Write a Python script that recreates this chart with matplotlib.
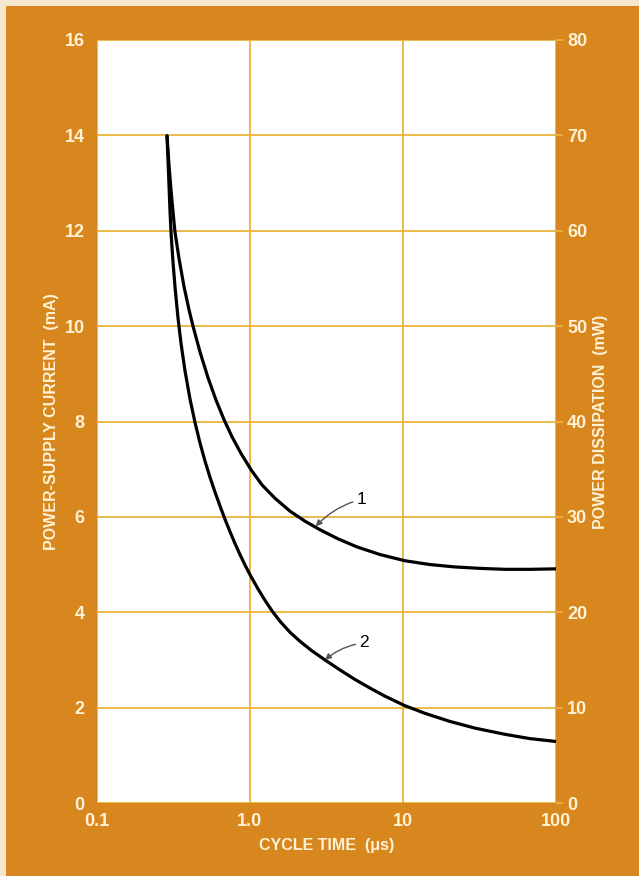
import numpy as np
import matplotlib.pyplot as plt
from matplotlib.patches import Rectangle

# curve 1 (upper), read along the line from the chart
x1 = [0.2868, 0.2955, 0.3046, 0.3139, 0.3235, 0.3435, 0.3704, 0.3995, 0.4241, 0.4711,
      0.5314, 0.5995, 0.6762, 0.7626, 0.8733, 1.015, 1.198, 1.457, 1.826, 2.288,
      2.868, 3.760, 5.003, 7.073, 10.30, 15.02, 21.88, 31.87, 46.42, 67.62, 100]
y1 = [13.99, 13.38, 12.85, 12.39, 11.97, 11.42, 10.83, 10.34, 10.00, 9.46,
      8.92, 8.45, 8.04, 7.68, 7.33, 6.99, 6.67, 6.39, 6.12, 5.91,
      5.73, 5.54, 5.37, 5.21, 5.08, 5.00, 4.95, 4.92, 4.90, 4.90, 4.91]

# curve 2 (lower)
x2 = [0.2868, 0.2912, 0.2955, 0.2999, 0.3046, 0.3139, 0.3235, 0.3384, 0.3540, 0.3761,
      0.4055, 0.4370, 0.4711, 0.5080, 0.5477, 0.5904, 0.6366, 0.6864, 0.7400, 0.7980,
      0.8603, 0.9275, 1.015, 1.128, 1.253, 1.392, 1.571, 1.826, 2.123, 2.542,
      3.092, 3.874, 4.857, 6.085, 7.627, 10.30, 13.93, 20.29, 29.56, 46.42, 67.62, 100]
y2 = [13.99, 13.48, 12.96, 12.43, 11.97, 11.34, 10.82, 10.17, 9.64, 9.06,
      8.47, 7.98, 7.55, 7.17, 6.83, 6.52, 6.23, 5.95, 5.69, 5.44,
      5.21, 4.99, 4.75, 4.49, 4.25, 4.03, 3.81, 3.58, 3.39, 3.19,
      3.00, 2.79, 2.59, 2.41, 2.24, 2.04, 1.88, 1.71, 1.57, 1.44, 1.35, 1.29]

xticks = [0.1, 1.0, 10, 100]
xticklabels = ["0.1", "1.0", "10", "100"]
left_ticks = [0, 2, 4, 6, 8, 10, 12, 14, 16]
right_ticks = [0, 10, 20, 30, 40, 50, 60, 70, 80]

orange = "#D8861E"
grid = "#EAB43A"
cream = "#FFF2D6"
edge = "#F4E6CF"
font = ["Liberation Sans", "DejaVu Sans"]

fig = plt.figure(figsize=(6.39, 8.76), dpi=100)
fig.patch.set_facecolor(orange)
# pale scan edges on top and left
fig.patches.append(Rectangle((0, 870 / 876), 1, 6 / 876, transform=fig.transFigure,
                             facecolor=edge, edgecolor="none"))
fig.patches.append(Rectangle((0, 0), 6 / 639, 1, transform=fig.transFigure,
                             facecolor=edge, edgecolor="none"))

ax = fig.add_axes([97 / 639, 1 - 803 / 876, 459 / 639, 763 / 876])
ax.set_facecolor("white")
ax.set_xscale("log")
ax.set_xlim(0.1, 100)
ax.set_ylim(0, 16)

ax.plot(x1, y1, color="black", lw=2.3, solid_capstyle="round", solid_joinstyle="round", zorder=3)
ax.plot(x2, y2, color="black", lw=2.3, solid_capstyle="round", solid_joinstyle="round", zorder=3)

ax.set_xticks(xticks)
ax.set_xticklabels(xticklabels)
ax.xaxis.set_minor_locator(plt.NullLocator())
ax.set_yticks(left_ticks)
ax.grid(True, color=grid, lw=1.3, zorder=1)
for s in ax.spines.values():
    s.set_visible(False)
ax.tick_params(axis="both", length=0, colors=cream, labelsize=13)
ax.tick_params(axis="x", pad=7)
ax.tick_params(axis="y", pad=9)
for lab in ax.get_xticklabels() + ax.get_yticklabels():
    lab.set_family(font)
    lab.set_fontweight("bold")

ax2 = ax.twinx()
ax2.set_ylim(0, 80)
ax2.set_yticks(right_ticks)
for s in ax2.spines.values():
    s.set_visible(False)
ax2.tick_params(axis="y", length=5, width=1.3, color=grid, labelcolor=cream,
                labelsize=13, pad=3)
for lab in ax2.get_yticklabels():
    lab.set_family(font)
    lab.set_fontweight("bold")

ax.set_xlabel("CYCLE TIME  (μs)", color=cream, fontsize=11.5, fontweight="bold",
              family=font, labelpad=6)
ax.set_ylabel("POWER-SUPPLY CURRENT  (mA)", color=cream, fontsize=11.5,
              fontweight="bold", family=font, labelpad=4)
ax2.set_ylabel("POWER DISSIPATION  (mW)", color=cream, fontsize=11.5,
               fontweight="bold", family=font, labelpad=4)

# curve labels with arrows
arrow = dict(arrowstyle="-|>", color="#555555", lw=1.0, mutation_scale=9,
             connectionstyle="arc3,rad=0.15", shrinkA=1, shrinkB=0)
ax.annotate("1", xy=(2.69, 5.80), xytext=(5.0, 6.37), fontsize=12.5, family=font,
            va="center", ha="left", arrowprops=arrow, zorder=4)
ax.annotate("2", xy=(3.09, 3.00), xytext=(5.2, 3.36), fontsize=12.5, family=font,
            va="center", ha="left", arrowprops=arrow, zorder=4)

fig.savefig("out.png", dpi=100, facecolor=fig.get_facecolor())
